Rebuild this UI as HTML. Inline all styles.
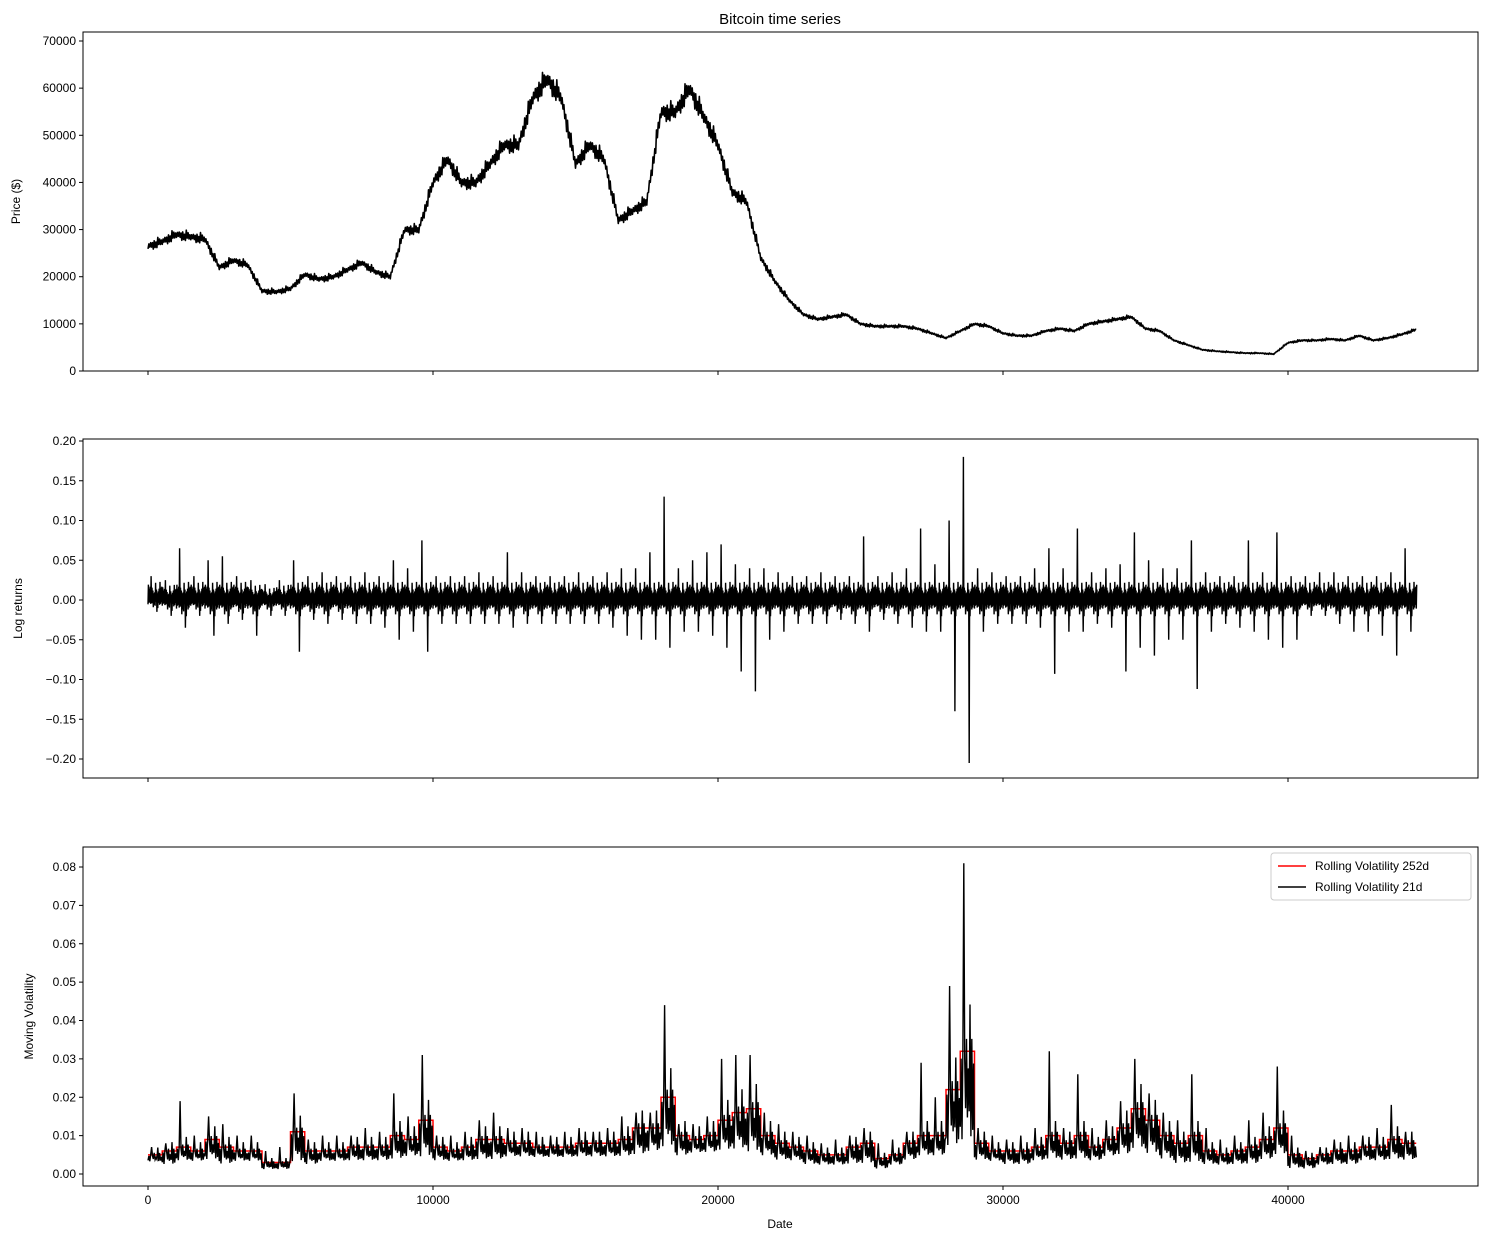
<!DOCTYPE html>
<html><head><meta charset="utf-8">
<style>
body{margin:0;background:#fff;}
svg{display:block;font-family:"Liberation Sans","DejaVu Sans",sans-serif;}
</style></head>
<body>
<svg id="fig" width="1488" height="1240" viewBox="0 0 1488 1240" xmlns="http://www.w3.org/2000/svg"></svg>
<script>
const binStart = 0;
const binStep = 500;
const price = [26500,27500,29000,28500,28000,22000,23500,22500,17000,16800,17500,20500,19500,20000,21500,23000,21000,20000,30000,30000,40000,45000,40000,40000,44000,48000,48000,58000,62000,58000,44000,48000,45000,32000,34000,36000,55000,55000,60000,54000,48000,38000,36000,24000,19000,15000,12000,11000,11500,12000,10000,9500,9500,9500,9000,8000,7000,8500,10000,9500,8000,7500,7500,8500,9000,8500,10000,10500,11000,11500,9000,8500,6500,5500,4500,4200,4000,3800,3800,3600,6000,6500,6500,6800,6500,7500,6500,7000,7800,8800];
const retMax = [0.03,0.025,0.065,0.03,0.05,0.055,0.03,0.025,0.02,0.025,0.05,0.03,0.035,0.03,0.03,0.035,0.03,0.05,0.04,0.075,0.03,0.03,0.03,0.035,0.03,0.06,0.035,0.03,0.03,0.03,0.035,0.03,0.035,0.04,0.04,0.06,0.13,0.04,0.05,0.06,0.07,0.045,0.04,0.04,0.035,0.03,0.03,0.035,0.03,0.03,0.08,0.03,0.035,0.04,0.09,0.045,0.1,0.18,0.04,0.035,0.03,0.03,0.04,0.065,0.04,0.09,0.035,0.04,0.045,0.085,0.05,0.04,0.04,0.075,0.035,0.03,0.03,0.075,0.035,0.085,0.03,0.03,0.035,0.035,0.03,0.03,0.03,0.035,0.065,0.03];
const retMin = [-0.015,-0.02,-0.035,-0.02,-0.045,-0.03,-0.025,-0.045,-0.02,-0.02,-0.065,-0.025,-0.03,-0.025,-0.03,-0.03,-0.035,-0.05,-0.04,-0.065,-0.03,-0.03,-0.03,-0.03,-0.03,-0.035,-0.03,-0.03,-0.03,-0.03,-0.03,-0.03,-0.035,-0.045,-0.05,-0.05,-0.06,-0.04,-0.04,-0.045,-0.06,-0.09,-0.115,-0.05,-0.04,-0.03,-0.03,-0.03,-0.025,-0.03,-0.04,-0.025,-0.03,-0.035,-0.04,-0.04,-0.14,-0.205,-0.04,-0.03,-0.03,-0.03,-0.035,-0.093,-0.04,-0.04,-0.03,-0.035,-0.09,-0.06,-0.07,-0.05,-0.05,-0.112,-0.04,-0.03,-0.035,-0.04,-0.05,-0.06,-0.05,-0.02,-0.02,-0.03,-0.04,-0.04,-0.045,-0.07,-0.04,-0.03];
const vol21Max = [0.007,0.008,0.019,0.01,0.015,0.013,0.01,0.01,0.006,0.007,0.021,0.009,0.01,0.01,0.01,0.012,0.011,0.021,0.015,0.031,0.01,0.01,0.011,0.014,0.016,0.012,0.012,0.011,0.01,0.011,0.012,0.011,0.012,0.015,0.016,0.016,0.044,0.013,0.013,0.015,0.03,0.031,0.031,0.016,0.013,0.011,0.01,0.008,0.009,0.01,0.012,0.008,0.009,0.011,0.029,0.02,0.049,0.081,0.012,0.01,0.009,0.01,0.012,0.032,0.012,0.026,0.012,0.014,0.019,0.03,0.021,0.016,0.014,0.026,0.012,0.009,0.01,0.014,0.016,0.028,0.01,0.006,0.007,0.009,0.01,0.01,0.012,0.018,0.011,0.01];
const vol21Min = [0.003,0.002,0.003,0.003,0.003,0.002,0.003,0.003,0.001,0.001,0.002,0.002,0.003,0.003,0.003,0.003,0.003,0.003,0.004,0.003,0.003,0.003,0.003,0.003,0.003,0.004,0.004,0.004,0.004,0.004,0.004,0.004,0.004,0.004,0.004,0.005,0.005,0.004,0.005,0.005,0.005,0.005,0.004,0.004,0.003,0.003,0.002,0.002,0.002,0.002,0.002,0.001,0.002,0.003,0.004,0.004,0.005,0.005,0.003,0.003,0.002,0.002,0.003,0.003,0.003,0.003,0.003,0.004,0.004,0.005,0.004,0.003,0.002,0.002,0.002,0.002,0.002,0.002,0.003,0.004,0.001,0.001,0.002,0.002,0.002,0.003,0.003,0.003,0.003,0.003];
const vol252 = [0.005,0.006,0.007,0.006,0.009,0.007,0.006,0.006,0.003,0.003,0.011,0.006,0.006,0.006,0.007,0.007,0.007,0.01,0.009,0.014,0.007,0.006,0.007,0.009,0.009,0.008,0.008,0.007,0.007,0.007,0.008,0.008,0.008,0.009,0.012,0.012,0.02,0.01,0.009,0.01,0.014,0.016,0.017,0.01,0.008,0.007,0.006,0.005,0.005,0.007,0.008,0.004,0.005,0.008,0.01,0.01,0.022,0.032,0.008,0.006,0.006,0.006,0.007,0.01,0.008,0.01,0.007,0.009,0.012,0.017,0.014,0.01,0.008,0.01,0.006,0.005,0.006,0.007,0.009,0.012,0.005,0.004,0.005,0.006,0.006,0.007,0.007,0.009,0.008,0.008];
const xTicks = [0,10000,20000,30000,40000];
const priceTicks = [0,10000,20000,30000,40000,50000,60000,70000];
const retTicks = [-0.20,-0.15,-0.10,-0.05,0.00,0.05,0.10,0.15,0.20];
const volTicks = [0.00,0.01,0.02,0.03,0.04,0.05,0.06,0.07,0.08];

// fixed sub-bin texture pattern (styling, not data)
const pat=[0.45,0.8,0.3,0.6,0.25,0.7,0.4,0.55,0.35,0.65,0.3,0.5,0.75,0.35,0.5,0.4,0.6,0.9,0.2,0.55,0.7,0.35,0.85,0.45,0.3,0.6,0.5,0.95,0.4,0.65,0.25,0.7];
const NSUB=pat.length;

const NS="http://www.w3.org/2000/svg";
const svg=document.getElementById('fig');
function mk(tag,attrs,parent){const e=document.createElementNS(NS,tag);for(const k in attrs)e.setAttribute(k,attrs[k]);(parent||svg).appendChild(e);return e;}
const X0=83,X1=1478;
const xs=v=>148+(v)*1140/40000;
const panels=[{top:32,bot:371},{top:439,bot:778},{top:847,bot:1186}];
const yPrice=v=>371-v*330/70000;
const yRet=v=>600-v*795;
const yVol=v=>1174-v*307/0.08;
const bx=i=>xs(binStart+i*binStep);
const BW=binStep*1140/40000;

function axes(p,name,ticks,ys,fmt,label,labelX,showX){
  const g=mk('g',{});
  
  
  mk('rect',{x:X0,y:p.top,width:X1-X0,height:p.bot-p.top,fill:'none',stroke:'#000','stroke-width':1},g);
  ticks.forEach(t=>{const y=ys(t);
    mk('line',{x1:X0-4,x2:X0,y1:y,y2:y,stroke:'#000'},g);
    const tx=mk('text',{x:X0-7,y:y+4,'text-anchor':'end','font-size':12},g);tx.textContent=fmt(t);});
  xTicks.forEach(t=>{mk('line',{x1:xs(t),x2:xs(t),y1:p.bot,y2:p.bot+4,stroke:'#000'},g);
    if(showX){const tx=mk('text',{x:xs(t),y:p.bot+18,'text-anchor':'middle','font-size':12},g);tx.textContent=t;}});
  const yl=mk('text',{x:labelX,y:(p.top+p.bot)/2,'text-anchor':'middle','font-size':12,transform:`rotate(-90 ${labelX} ${(p.top+p.bot)/2})`},g);
  yl.textContent=label;
  
  
  return g;
}
axes(panels[0],'price-axes',priceTicks,yPrice,t=>t,'Price ($)',20,false);
axes(panels[1],'returns-axes',retTicks,yRet,t=>t.toFixed(2).replace('-','\u2212'),'Log returns',22,false);
axes(panels[2],'volatility-axes',volTicks,yVol,t=>t.toFixed(2),'Moving Volatility',33,true);

const title=mk('text',{x:780,y:24,'text-anchor':'middle','font-size':15});
title.textContent='Bitcoin time series';


const xl=mk('text',{x:780,y:1228,'text-anchor':'middle','font-size':12});
xl.textContent='Date';



const last=price.length-1;
// price line
let pts=[];
for(let i=0;i<last;i++){
  for(let k=0;k<NSUB;k+=2){
    const f=k/NSUB, v=price[i]+(price[i+1]-price[i])*f;
    const off=(k%4?1:-1)*pat[k]*0.05*v;
    pts.push((bx(i)+BW*f).toFixed(1)+','+yPrice(v+off).toFixed(1));
  }
}
pts.push(bx(last)+','+yPrice(price[last]));
const pl=mk('polyline',{points:pts.join(' '),fill:'none',stroke:'#000','stroke-width':1.6,'stroke-linejoin':'round'});



// returns
let rp=[];
for(let i=0;i<=last;i++){
  const n=(i===last)?2:NSUB;
  const cu=Math.min(retMax[i],0.03), cl=Math.max(retMin[i],-0.03);
  for(let k=0;k<n;k++){
    let v;
    if(k===7) v=retMax[i];
    else if(k===20) v=retMin[i];
    else v=(k%2?cu:cl)*pat[k]*0.8;
    rp.push((bx(i)+BW*k/NSUB).toFixed(1)+','+yRet(v).toFixed(1));
  }
}
const rl=mk('polyline',{points:rp.join(' '),fill:'none',stroke:'#000','stroke-width':1.4});



// volatility 252d
const vr=[];
vol252.forEach((v,i)=>{vr.push(bx(i)+','+yVol(v));vr.push(bx(i)+(i===last?0:BW)+','+yVol(v));});
const red=mk('polyline',{points:vr.join(' '),fill:'none',stroke:'#f00','stroke-width':1.5});


// volatility 21d
const vb=[];
for(let i=0;i<=last;i++){
  const n=(i===last)?2:NSUB;
  const base=vol252[i], lo=vol21Min[i];
  for(let k=0;k<n;k+=2){
    let v;
    if(k===8) v=vol21Max[i];
    else v=(k%4)? base*(0.7+pat[k]*0.8) : lo+(base-lo)*pat[k]*0.6;
    vb.push((bx(i)+BW*k/NSUB).toFixed(1)+','+yVol(v).toFixed(1));
  }
}
const blk=mk('polyline',{points:vb.join(' '),fill:'none',stroke:'#000','stroke-width':1.4});



// legend
const lg=mk('g',{});


mk('rect',{x:1271,y:853,width:200,height:47,rx:3,fill:'#fff',stroke:'#ccc'},lg);
mk('line',{x1:1278,x2:1306,y1:866,y2:866,stroke:'#f00','stroke-width':1.5},lg);
mk('line',{x1:1278,x2:1306,y1:887,y2:887,stroke:'#000','stroke-width':1.5},lg);
const l1=mk('text',{x:1315,y:870,'font-size':12},lg);l1.textContent='Rolling Volatility 252d';
const l2=mk('text',{x:1315,y:891,'font-size':12},lg);l2.textContent='Rolling Volatility 21d';
</script>
</body></html>
